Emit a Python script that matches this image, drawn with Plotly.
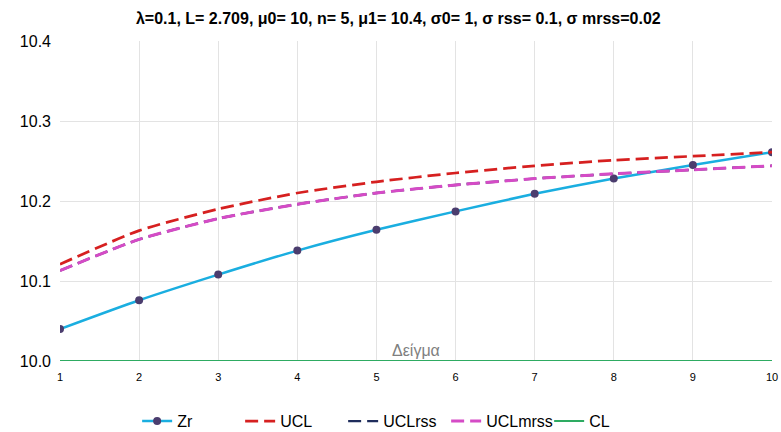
import plotly.graph_objects as go

# Sample index and chart series
samples = [1, 2, 3, 4, 5, 6, 7, 8, 9, 10]
zr = [10.040, 10.076, 10.108, 10.138, 10.164, 10.187, 10.209, 10.228, 10.245, 10.261]
ucl = [10.121, 10.163, 10.190, 10.210, 10.224, 10.235, 10.244, 10.251, 10.256, 10.261]
ucl_rss = [10.113, 10.152, 10.178, 10.196, 10.210, 10.220, 10.228, 10.234, 10.239, 10.244]
ucl_mrss = [10.113, 10.152, 10.178, 10.196, 10.210, 10.220, 10.228, 10.234, 10.239, 10.244]
cl = [10.0] * 10

y_ticks = [10.0, 10.1, 10.2, 10.3, 10.4]
y_tick_text = ["10.0", "10.1", "10.2", "10.3", "10.4"]

title_text = "λ=0.1, L= 2.709, μ0= 10, n= 5, μ1= 10.4, σ0= 1, σ rss= 0.1, σ mrss=0.02"

dash_style = "13px,6px"

fig = go.Figure()
fig.add_trace(go.Scatter(
    x=samples, y=zr, name="Zr", mode="lines+markers",
    line=dict(color="#1aaee0", width=2.5, shape="spline", smoothing=0.6),
    marker=dict(color="#4b3d6e", size=8),
))
fig.add_trace(go.Scatter(
    x=samples, y=ucl, name="UCL", mode="lines",
    line=dict(color="#d62020", width=2.75, dash=dash_style, shape="spline", smoothing=0.6),
))
fig.add_trace(go.Scatter(
    x=samples, y=ucl_rss, name="UCLrss", mode="lines",
    line=dict(color="#1f2d5c", width=2.4, dash=dash_style, shape="spline", smoothing=0.6),
))
fig.add_trace(go.Scatter(
    x=samples, y=ucl_mrss, name="UCLmrss", mode="lines",
    line=dict(color="#d54bc6", width=3, dash=dash_style, shape="spline", smoothing=0.6),
))
fig.add_trace(go.Scatter(
    x=samples, y=cl, name="CL", mode="lines",
    line=dict(color="#2eab62", width=2),
))

fig.add_annotation(
    text="Δείγμα", x=0.5, xref="paper", y=10.0, yref="y",
    yanchor="bottom", yshift=0, showarrow=False,
    font=dict(family="Liberation Sans", size=16, color="#7f7f7f"),
)

fig.update_layout(
    width=781, height=432,
    margin=dict(l=60, r=9, t=41, b=71),
    paper_bgcolor="white", plot_bgcolor="white",
    title=dict(
        text="<b>" + title_text + "</b>", x=0.51, xanchor="center",
        y=0.957, yanchor="middle",
        font=dict(family="Liberation Sans", size=16, color="#000000"),
    ),
    xaxis=dict(
        range=[1, 10], tickvals=samples, showgrid=True, gridcolor="#e3e3e3",
        zeroline=False, showline=False, ticks="", automargin=False,
        ticklabelstandoff=8,
        tickfont=dict(family="Liberation Sans", size=11, color="#000000"),
    ),
    yaxis=dict(
        range=[10.0, 10.4], tickvals=y_ticks, ticktext=y_tick_text,
        showgrid=True, gridcolor="#e3e3e3", zeroline=False, showline=False,
        ticks="", ticklabelstandoff=8, automargin=False,
        tickfont=dict(family="Liberation Sans", size=16, color="#000000"),
    ),
    legend=dict(
        orientation="h", x=0.47, xanchor="center",
        yref="container", y=0.025, yanchor="middle",
        font=dict(family="Liberation Sans", size=16, color="#000000"),
        entrywidth=58,
    ),
)

fig.write_html("out.html")
